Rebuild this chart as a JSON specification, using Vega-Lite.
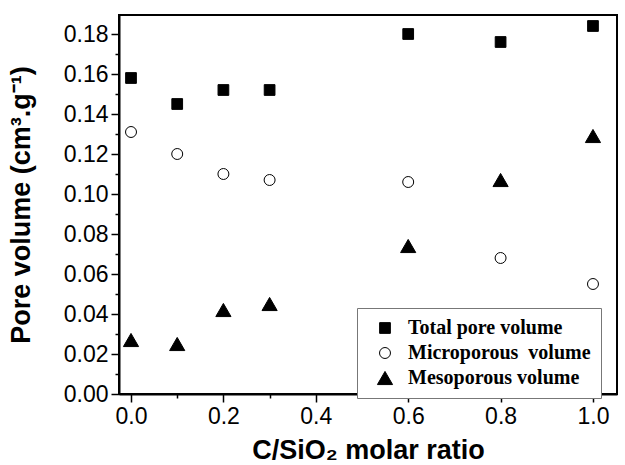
{
  "$schema": "https://vega.github.io/schema/vega-lite/v6.json",
  "width": 498,
  "height": 379,
  "autosize": {"type": "none"},
  "padding": {"left": 119, "top": 15, "right": 8, "bottom": 71},
  "background": "white",
  "config": {
    "view": {"stroke": "black", "strokeWidth": 2},
    "font": "Liberation Sans",
    "axis": {
      "grid": false,
      "domainColor": "black",
      "domainWidth": 2,
      "tickColor": "black",
      "tickWidth": 1.5,
      "labelColor": "black",
      "titleColor": "black",
      "labelFont": "Liberation Sans",
      "titleFont": "Liberation Sans",
      "labelFlush": false,
      "labelOverlap": false
    }
  },
  "data": {
    "values": [
      {"ratio": 0.0, "volume": 0.158, "series": "Total pore volume"},
      {"ratio": 0.1, "volume": 0.145, "series": "Total pore volume"},
      {"ratio": 0.2, "volume": 0.152, "series": "Total pore volume"},
      {"ratio": 0.3, "volume": 0.152, "series": "Total pore volume"},
      {"ratio": 0.6, "volume": 0.180, "series": "Total pore volume"},
      {"ratio": 0.8, "volume": 0.176, "series": "Total pore volume"},
      {"ratio": 1.0, "volume": 0.184, "series": "Total pore volume"},
      {"ratio": 0.0, "volume": 0.131, "series": "Microporous volume"},
      {"ratio": 0.1, "volume": 0.120, "series": "Microporous volume"},
      {"ratio": 0.2, "volume": 0.110, "series": "Microporous volume"},
      {"ratio": 0.3, "volume": 0.107, "series": "Microporous volume"},
      {"ratio": 0.6, "volume": 0.106, "series": "Microporous volume"},
      {"ratio": 0.8, "volume": 0.068, "series": "Microporous volume"},
      {"ratio": 1.0, "volume": 0.055, "series": "Microporous volume"},
      {"ratio": 0.0, "volume": 0.027, "series": "Mesoporous volume"},
      {"ratio": 0.1, "volume": 0.025, "series": "Mesoporous volume"},
      {"ratio": 0.2, "volume": 0.042, "series": "Mesoporous volume"},
      {"ratio": 0.3, "volume": 0.045, "series": "Mesoporous volume"},
      {"ratio": 0.6, "volume": 0.074, "series": "Mesoporous volume"},
      {"ratio": 0.8, "volume": 0.107, "series": "Mesoporous volume"},
      {"ratio": 1.0, "volume": 0.129, "series": "Mesoporous volume"}
    ]
  },
  "layer": [
    {
      "mark": {"type": "point", "filled": true, "stroke": "black", "strokeWidth": 1, "opacity": 1},
      "encoding": {
        "x": {
          "field": "ratio", "type": "quantitative",
          "scale": {"domain": [-0.026, 1.052], "nice": false, "zero": false},
          "axis": {
            "orient": "bottom",
            "values": [0, 0.2, 0.4, 0.6, 0.8, 1.0],
            "format": ".1f",
            "tickSize": 8,
            "labelFontSize": 23,
            "labelPadding": 3,
            "title": "C/SiO₂ molar ratio",
            "titleFontSize": 27,
            "titleFontWeight": "bold",
            "titlePadding": 9
          }
        },
        "y": {
          "field": "volume", "type": "quantitative",
          "scale": {"domain": [0, 0.1895], "nice": false, "zero": false},
          "axis": {
            "orient": "left",
            "values": [0, 0.02, 0.04, 0.06, 0.08, 0.1, 0.12, 0.14, 0.16, 0.18],
            "format": ".2f",
            "tickSize": 8,
            "labelFontSize": 23,
            "labelPadding": 3,
            "title": "Pore volume (cm³.g⁻¹)",
            "titleFontSize": 27,
            "titleFontWeight": "bold",
            "titlePadding": 28
          }
        },
        "shape": {
          "field": "series", "type": "nominal",
          "scale": {"domain": ["Total pore volume", "Microporous volume", "Mesoporous volume"], "range": ["square", "circle", "triangle-up"]},
          "legend": {
            "orient": "none", "legendX": 238, "legendY": 293,
            "title": null,
            "strokeColor": "#777", "fillColor": "white",
            "padding": 10,
            "labelFont": "Liberation Serif", "labelFontWeight": "bold", "labelFontSize": 20, "labelColor": "black",
            "labelLimit": 400,
            "rowPadding": 5,
            "symbolOffset": 8,
            "labelOffset": 13,
            "symbolStrokeColor": "black",
            "symbolStrokeWidth": 1,
            "labelExpr": "datum.label == 'Microporous volume' ? 'Microporous\u00a0 volume' : datum.label"
          }
        },
        "fill": {
          "field": "series", "type": "nominal",
          "scale": {"domain": ["Total pore volume", "Microporous volume", "Mesoporous volume"], "range": ["black", "white", "black"]}
        },
        "size": {
          "field": "series", "type": "nominal",
          "scale": {"type": "ordinal", "domain": ["Total pore volume", "Microporous volume", "Mesoporous volume"], "range": [115, 120, 230]}
        }
      }
    },
    {
      "mark": {"type": "point", "opacity": 0},
      "encoding": {
        "x": {
          "field": "ratio", "type": "quantitative",
          "scale": {"domain": [-0.026, 1.052], "nice": false, "zero": false},
          "axis": {"orient": "bottom", "values": [0.1, 0.3, 0.5, 0.7, 0.9], "labels": false, "domain": false, "tickSize": 4, "title": null}
        },
        "y": {
          "field": "volume", "type": "quantitative",
          "scale": {"domain": [0, 0.1895], "nice": false, "zero": false},
          "axis": {"orient": "left", "values": [0.01, 0.03, 0.05, 0.07, 0.09, 0.11, 0.13, 0.15, 0.17], "labels": false, "domain": false, "tickSize": 4, "title": null}
        }
      }
    }
  ],
  "resolve": {"axis": {"x": "independent", "y": "independent"}}
}
